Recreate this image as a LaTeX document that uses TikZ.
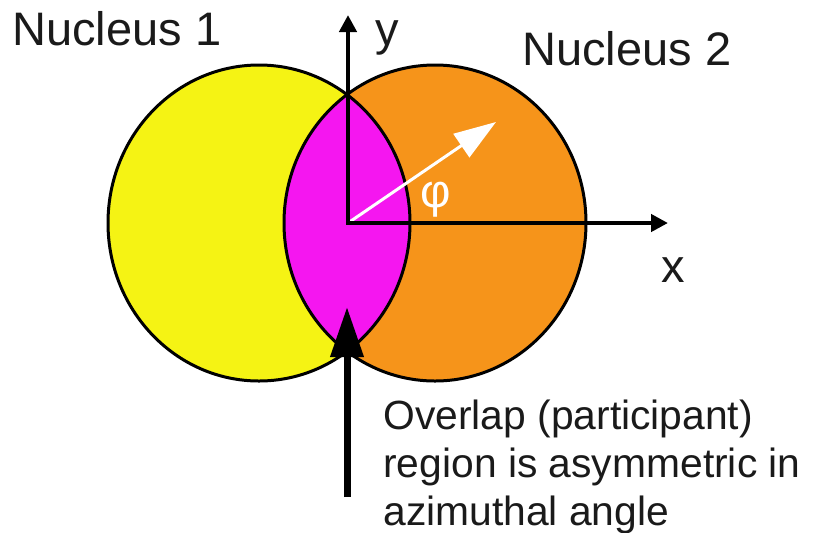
\documentclass[tikz,border=0pt]{standalone}
\usepackage{fontspec}
\setmainfont{Liberation Sans}
\usetikzlibrary{arrows.meta}
\definecolor{nucone}{RGB}{245,243,20}
\definecolor{nuctwo}{RGB}{246,148,26}
\definecolor{overlap}{RGB}{245,22,240}
\definecolor{ink}{RGB}{26,26,26}

\begin{document}
\begin{tikzpicture}[
  x=0.5pt, y=-0.5pt,
  nucleus/.style={x radius=151, y radius=158},
  rim/.style={draw=black, line width=1.5pt},
  lab/.style={inner sep=0pt, anchor=base west, text=ink, font=\fontsize{23.5}{28}\selectfont},
  note/.style={lab, align=left, font=\fontsize{20.4}{24}\selectfont},
  axis/.style={line width=2.3pt, line join=miter,
    {Triangle[length=8.5pt,width=8.5pt]}-{Triangle[length=8.5pt,width=8.5pt]}},
  phiarr/.style={draw=white, line width=1.5pt, -{Triangle[length=21pt,width=14pt]}},
  pointer/.style={line width=3.5pt, -{Triangle[length=25pt,width=16pt]}}
]
\useasboundingbox (0,0) rectangle (825,532);
\coordinate (c1) at (259,223);
\coordinate (c2) at (435,223);
% the two nuclei and their overlap
\fill[nucone] (c1) ellipse [nucleus];
\fill[nuctwo] (c2) ellipse [nucleus];
\begin{scope}
  \clip (c1) ellipse [nucleus];
  \fill[overlap] (c2) ellipse [nucleus];
\end{scope}
\draw[rim] (c1) ellipse [nucleus];
\draw[rim] (c2) ellipse [nucleus];
% axes and azimuth
\coordinate (O) at (348,223);
\coordinate (ytip) at (348,15);
\coordinate (xtip) at (668,223);
\coordinate (phitip) at (496,122);
\draw[phiarr] (O) -- (phitip);
\draw[axis] (ytip) -- (O) -- (xtip);
\node[lab, text=white, anchor=center] (phi) at (436,200) {φ};
\node[lab] (ylab) at (375,45) {y};
\node[lab] (xlab) at (661,282) {x};
% labels
\node[lab] (nuc1) at (12,45) {Nucleus 1};
\node[lab] (nuc2) at (522,65) {Nucleus 2};
\coordinate (tail) at (347,497);
\coordinate (tip) at (347,307);
\draw[pointer] (tail) -- (tip);
\node[note] (note) at (383,525) {Overlap (participant)\\region is asymmetric in\\azimuthal angle};
\end{tikzpicture}
\end{document}
